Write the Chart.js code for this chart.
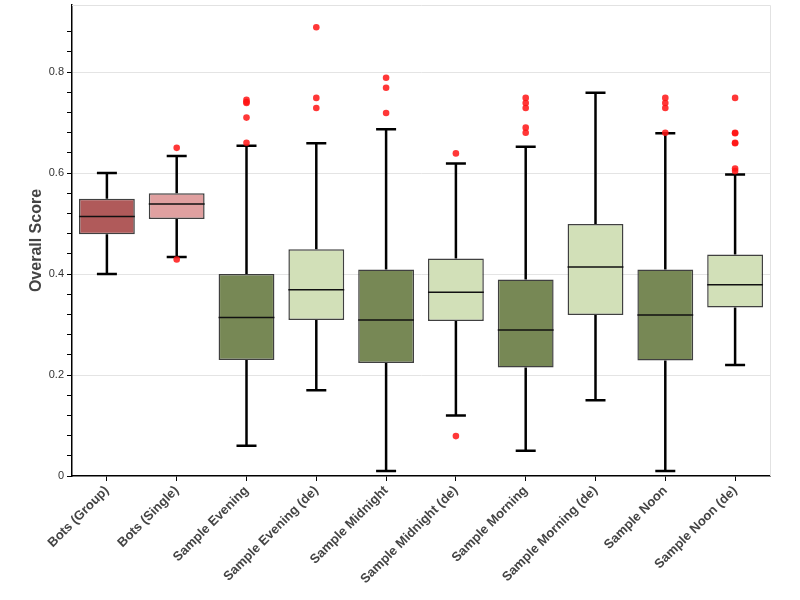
<!DOCTYPE html>
<html>
<head>
<meta charset="utf-8">
<script src="https://cdn.jsdelivr.net/npm/chart.js@4/dist/chart.umd.min.js"></script>
<style>
html,body{margin:0;padding:0;background:#fff;}
#wrap{width:800px;height:600px;position:relative;}
</style>
</head>
<body>
<div id="wrap"><canvas id="c" width="800" height="600"></canvas></div>
<script>
const categories = ["Bots (Group)","Bots (Single)","Sample Evening","Sample Evening (de)","Sample Midnight","Sample Midnight (de)","Sample Morning","Sample Morning (de)","Sample Noon","Sample Noon (de)"];
const whiskerLow  = [0.40, 0.434, 0.06, 0.17, 0.01, 0.12, 0.05, 0.15, 0.01, 0.22];
const q1          = [0.479, 0.509, 0.23, 0.309, 0.224, 0.307, 0.215, 0.319, 0.229, 0.334];
const medians     = [0.514, 0.539, 0.314, 0.369, 0.309, 0.364, 0.289, 0.414, 0.319, 0.379];
const q3          = [0.549, 0.56, 0.40, 0.449, 0.409, 0.431, 0.389, 0.499, 0.409, 0.439];
const whiskerHigh = [0.60, 0.634, 0.654, 0.659, 0.687, 0.619, 0.652, 0.759, 0.679, 0.597];
const outliers = [
  [],
  [0.65, 0.429],
  [0.745, 0.741, 0.739, 0.71, 0.66],
  [0.889, 0.749, 0.729],
  [0.789, 0.769, 0.719],
  [0.639, 0.079],
  [0.749, 0.739, 0.729, 0.69, 0.68],
  [],
  [0.749, 0.739, 0.729, 0.68],
  [0.749, 0.68, 0.679, 0.66, 0.659, 0.609, 0.604]
];
const boxColors = ["#b05a5a","#e0a0a0","#778855","#d2e0b8","#778855","#d2e0b8","#778855","#d2e0b8","#778855","#d2e0b8"];
const yTitle = "Overall Score";

const outlierPoints = [];
outliers.forEach((arr, i) => arr.forEach(v => outlierPoints.push({x: categories[i], y: v})));

const boxPlugin = {
  id: 'boxExtras',
  beforeDatasetsDraw(chart) {
    const ctx = chart.ctx, xs = chart.scales.x, ys = chart.scales.y;
    ctx.save();
    ctx.strokeStyle = '#000';
    ctx.lineWidth = 2.5;
    categories.forEach((c, i) => {
      const x = xs.getPixelForValue(i);
      const yl = ys.getPixelForValue(whiskerLow[i]);
      const yh = ys.getPixelForValue(whiskerHigh[i]);
      const yq1 = ys.getPixelForValue(q1[i]);
      const yq3 = ys.getPixelForValue(q3[i]);
      ctx.beginPath();
      ctx.moveTo(x, yq1); ctx.lineTo(x, yl);
      ctx.moveTo(x, yq3); ctx.lineTo(x, yh);
      ctx.moveTo(x - 10, yl); ctx.lineTo(x + 10, yl);
      ctx.moveTo(x - 10, yh); ctx.lineTo(x + 10, yh);
      ctx.stroke();
    });
    ctx.restore();
  },
  afterDatasetsDraw(chart) {
    const ctx = chart.ctx, ys = chart.scales.y;
    const meta = chart.getDatasetMeta(0);
    ctx.save();
    ctx.strokeStyle = '#111';
    ctx.lineWidth = 1.5;
    categories.forEach((c, i) => {
      const bar = meta.data[i];
      const half = bar.width / 2;
      const x = bar.x;
      const ym = ys.getPixelForValue(medians[i]);
      ctx.beginPath();
      ctx.moveTo(x - half, ym); ctx.lineTo(x + half, ym);
      ctx.stroke();
    });
    const a = chart.chartArea;
    ctx.strokeStyle = '#e2e2e2';
    ctx.lineWidth = 1;
    ctx.beginPath();
    ctx.moveTo(a.left, a.top + 0.5); ctx.lineTo(a.right + 0.5, a.top + 0.5);
    ctx.lineTo(a.right + 0.5, a.bottom);
    ctx.stroke();
    ctx.restore();
  }
};

const isMajor = v => Math.abs(v / 0.2 - Math.round(v / 0.2)) < 1e-6;
const YMAX = 0.933;

new Chart(document.getElementById('c'), {
  type: 'bar',
  data: {
    labels: categories,
    datasets: [
      {
        type: 'bar',
        data: categories.map((c, i) => [q1[i], q3[i]]),
        backgroundColor: boxColors,
        borderColor: 'rgba(30,30,30,0.85)',
        borderWidth: 1.5,
        borderSkipped: false,
        categoryPercentage: 0.8,
        barPercentage: 1.0,
        order: 2
      },
      {
        type: 'scatter',
        data: outlierPoints,
        pointRadius: 3.3,
        pointBackgroundColor: 'rgba(255,20,20,0.85)',
        pointBorderColor: 'rgba(255,20,20,0.85)',
        pointBorderWidth: 0,
        order: 1
      }
    ]
  },
  options: {
    responsive: false,
    animation: false,
    layout: { padding: { left: 0, top: 5, right: 30, bottom: 0 } },
    plugins: { legend: { display: false }, tooltip: { enabled: false } },
    scales: {
      x: {
        type: 'category',
        offset: true,
        grid: { display: true, offset: false, color: 'rgba(0,0,0,0)', tickColor: '#000', tickLength: 5, drawOnChartArea: false },
        border: { display: true, color: '#000', width: 1.5 },
        ticks: {
          minRotation: 45, maxRotation: 45, autoSkip: false,
          color: '#444', padding: 2,
          font: { family: 'Liberation Sans, Arial, sans-serif', size: 13, weight: 'bold' }
        },
        afterFit(s) { s.height = 124; s.paddingLeft = 0; s.paddingRight = 0; }
      },
      y: {
        type: 'linear',
        min: 0, max: YMAX,
        grid: {
          color: ctx => (ctx.tick && isMajor(ctx.tick.value) && ctx.tick.value > 0 && ctx.tick.value < YMAX - 1e-6) ? '#e4e4e4' : 'rgba(0,0,0,0)',
          tickColor: ctx => (ctx.tick && ctx.tick.value >= YMAX - 1e-6) ? 'rgba(0,0,0,0)' : '#000',
          tickLength: 5,
          lineWidth: 1
        },
        border: { display: true, color: '#000', width: 1.5 },
        ticks: {
          stepSize: 0.04,
          autoSkip: false,
          color: '#333',
          padding: 3,
          font: { family: 'Liberation Sans, Arial, sans-serif', size: 11 },
          callback: v => (isMajor(v) && v < YMAX - 1e-6) ? (Math.round(v * 10) / 10 === 0 ? '0' : (Math.round(v * 10) / 10).toString()) : ''
        },
        title: {
          display: true, text: yTitle, color: '#444',
          font: { family: 'Liberation Sans, Arial, sans-serif', size: 16, weight: 'bold' },
          padding: { top: 27, bottom: 0 }
        },
        afterFit(s) { s.width = 72; s.paddingTop = 0; s.paddingBottom = 0; }
      }
    }
  },
  plugins: [boxPlugin]
});
</script>
</body>
</html>
